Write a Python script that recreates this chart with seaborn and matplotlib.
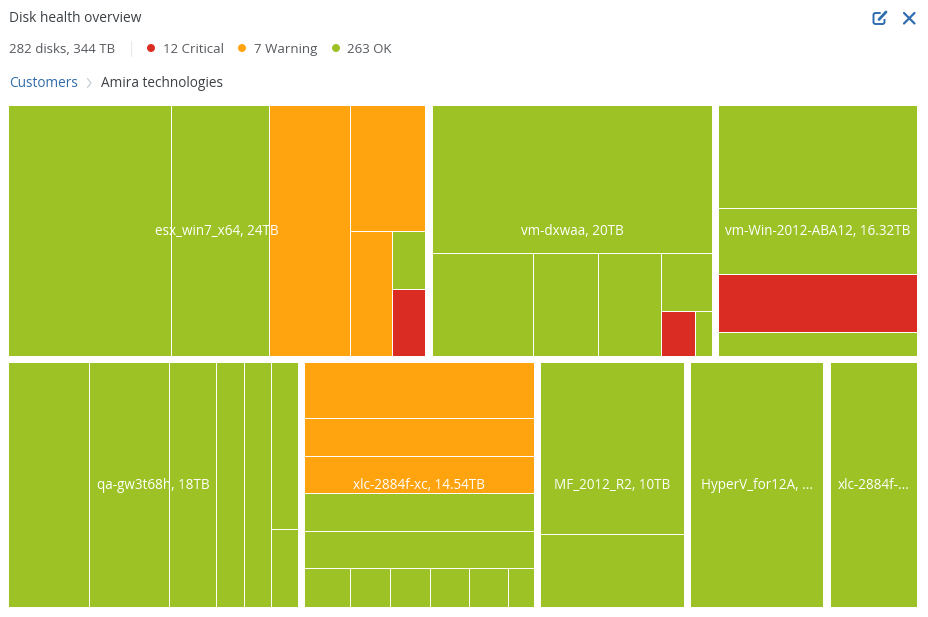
import matplotlib
matplotlib.use("Agg")
import matplotlib.pyplot as plt
from matplotlib.patches import Rectangle, FancyBboxPatch, Circle
import seaborn as sns

sns.set_theme(style="white")
plt.rcParams["font.family"] = ["Open Sans", "DejaVu Sans"]

# ---- data ----
title = "Disk health overview"
summary = "282 disks, 344 TB"
status_names = ["Critical", "Warning", "OK"]
status_counts = [12, 7, 263]
crumbs = ["Customers", "Amira technologies"]

status_colors = {"C": "#DA2C22", "W": "#FFA40F", "O": "#9CC225"}

labels_top = ["esx_win7_x64, 24TB", "vm-dxwaa, 20TB", "vm-Win-2012-ABA12, 16.32TB"]
labels_bottom = ["qa-gw3t68h, 18TB", "xlc-2884f-xc, 14.54TB", "MF_2012_R2, 10TB",
                 "HyperV_for12A, ...", "xlc-2884f-..."]

sizes_top = [109.05, 73.77, 52.79]
sizes_bottom = [74.44, 59.35, 37.73, 34.96, 23.64]

esx = ("h", [(40.9, "O"), (24.4, "O"), (20.4, "W"),
             ("v", [(9.45, "W"),
                    ("h", [(5.2, "W"), ("v", [(1.95, "O"), (2.25, "C")])])])])
dxwaa = ("v", [(41.4, "O"),
               ("h", [(10.4, "O"), (6.7, "O"), (6.49, "O"),
                      ("v", [(2.96, "O"), ("h", [(1.53, "C"), (0.77, "O")])])])])
win2012 = ("v", [(20.4, "O"), (13.07, "O"), (11.48, "C"), (4.75, "O")])
qa = ("h", [(19.6, "O"), (19.6, "O"), (11.5, "O"), (6.6, "O"), (6.6, "O"),
            ("v", [(4.5, "O"), (2.1, "O")])])
xlc = ("v", [(12.8, "W"), (8.7, "W"), (8.47, "W"), (8.7, "O"), (8.47, "O"),
             ("h", [(1.76, "O"), (1.56, "O"), (1.56, "O"),
                    (1.52, "O"), (1.52, "O"), (1.01, "O")])])
mf = ("v", [(24.6, "O"), (10.44, "O")])
hyperv = ("v", [(32.3, "O")])
xlc2 = ("v", [(21.3, "O")])

trees_top = [esx, dxwaa, win2012]
trees_bottom = [qa, xlc, mf, hyperv, xlc2]

# ---- figure ----
FW, FH = 929, 617
fig = plt.figure(figsize=(FW / 100, FH / 100), dpi=100, facecolor="white")

# Header layer in pixel coordinates
hd = fig.add_axes([0, 0, 1, 1])
hd.set_xlim(0, FW)
hd.set_ylim(FH, 0)
hd.axis("off")

DARK = "#3C4146"
GREY = "#55595E"
BLUE = "#2F6BA8"
ICON = "#2F6DB0"

hd.text(9, 19, title, fontsize=9.95, color=DARK, va="center", ha="left", fontweight="medium")
hd.text(9, 49.5, summary, fontsize=9.55, color=GREY, va="center", ha="left")
hd.plot([131.5, 131.5], [41, 56], color="#E6E8EA", lw=0.8)

dot_x = [151, 242, 336]
text_x = [163, 254, 347]
for name, count, dx, tx, key in zip(status_names, status_counts, dot_x, text_x, "CWO"):
    hd.add_patch(Circle((dx, 48), 4, color=status_colors[key], lw=0))
    hd.text(tx, 49.5, f"{count} {name}", fontsize=9.55, color=GREY, va="center", ha="left")

hd.text(9, 83.5, crumbs[0], fontsize=9.8, color=BLUE, va="center", ha="left", fontweight="medium")
hd.plot([87.5, 91, 87.5], [78.5, 83, 87.5], color="#C9CDD1", lw=0.9)
hd.text(101, 83.5, crumbs[1], fontsize=9.85, color=DARK, va="center", ha="left", fontweight="medium")

# Edit icon
hd.add_patch(FancyBboxPatch((873.5, 13), 11, 11, boxstyle="round,pad=0,rounding_size=2",
                            fill=False, ec=ICON, lw=1.4))
hd.add_patch(Rectangle((879, 10.5), 8, 8, fc="white", ec="none"))
hd.plot([874 + 5, 874 + 5, 879 + 1], [13, 13, 13], color=ICON, lw=1.4)
hd.plot([879, 886], [19.5, 12], color=ICON, lw=2.0, solid_capstyle="round")
# Close icon
hd.plot([904, 914.5], [13, 23.5], color=ICON, lw=1.6, solid_capstyle="round")
hd.plot([904, 914.5], [23.5, 13], color=ICON, lw=1.6, solid_capstyle="round")

# Treemap layer
L, R, T, B = 4.9, 920.4, 101.5, 610.5
ax = fig.add_axes([L / FW, 1 - B / FH, (R - L) / FW, (B - T) / FH])
W, H = R - L, B - T
ax.set_xlim(0, W)
ax.set_ylim(H, 0)
ax.axis("off")
ax.patch.set_alpha(0)


def weight(node):
    if isinstance(node[0], str):
        return sum(weight(c) for c in node[1])
    return node[0]


def draw(node, x, y, w, h):
    if isinstance(node[0], str):
        total = weight(node)
        pos = 0.0
        for child in node[1]:
            f = weight(child) / total
            if node[0] == "h":
                draw(child, x + pos * w, y, f * w, h)
            else:
                draw(child, x, y + pos * h, w, f * h)
            pos += f
    else:
        ax.add_patch(Rectangle((x, y), w, h, facecolor=status_colors[node[1]],
                               edgecolor="#FFFFFF", linewidth=0.7))


PAD = 3.2
grand = sum(sizes_top) + sum(sizes_bottom)
rows = [(sizes_top, trees_top, labels_top), (sizes_bottom, trees_bottom, labels_bottom)]
y0 = 0.0
for sizes, trees, labels in rows:
    row_h = H * sum(sizes) / grand
    x0 = 0.0
    for size, tree, label in zip(sizes, trees, labels):
        gw = W * size / sum(sizes)
        gx, gy, gwi, ghi = x0 + PAD, y0 + PAD, gw - 2 * PAD, row_h - 2 * PAD
        draw(tree, gx, gy, gwi, ghi)
        ax.text(gx + gwi / 2, gy + ghi / 2 + 1, label, color="white", fontsize=9.75,
                ha="center", va="center", zorder=5)
        x0 += gw
    y0 += row_h

fig.savefig("out.png", dpi=100, facecolor="white")
